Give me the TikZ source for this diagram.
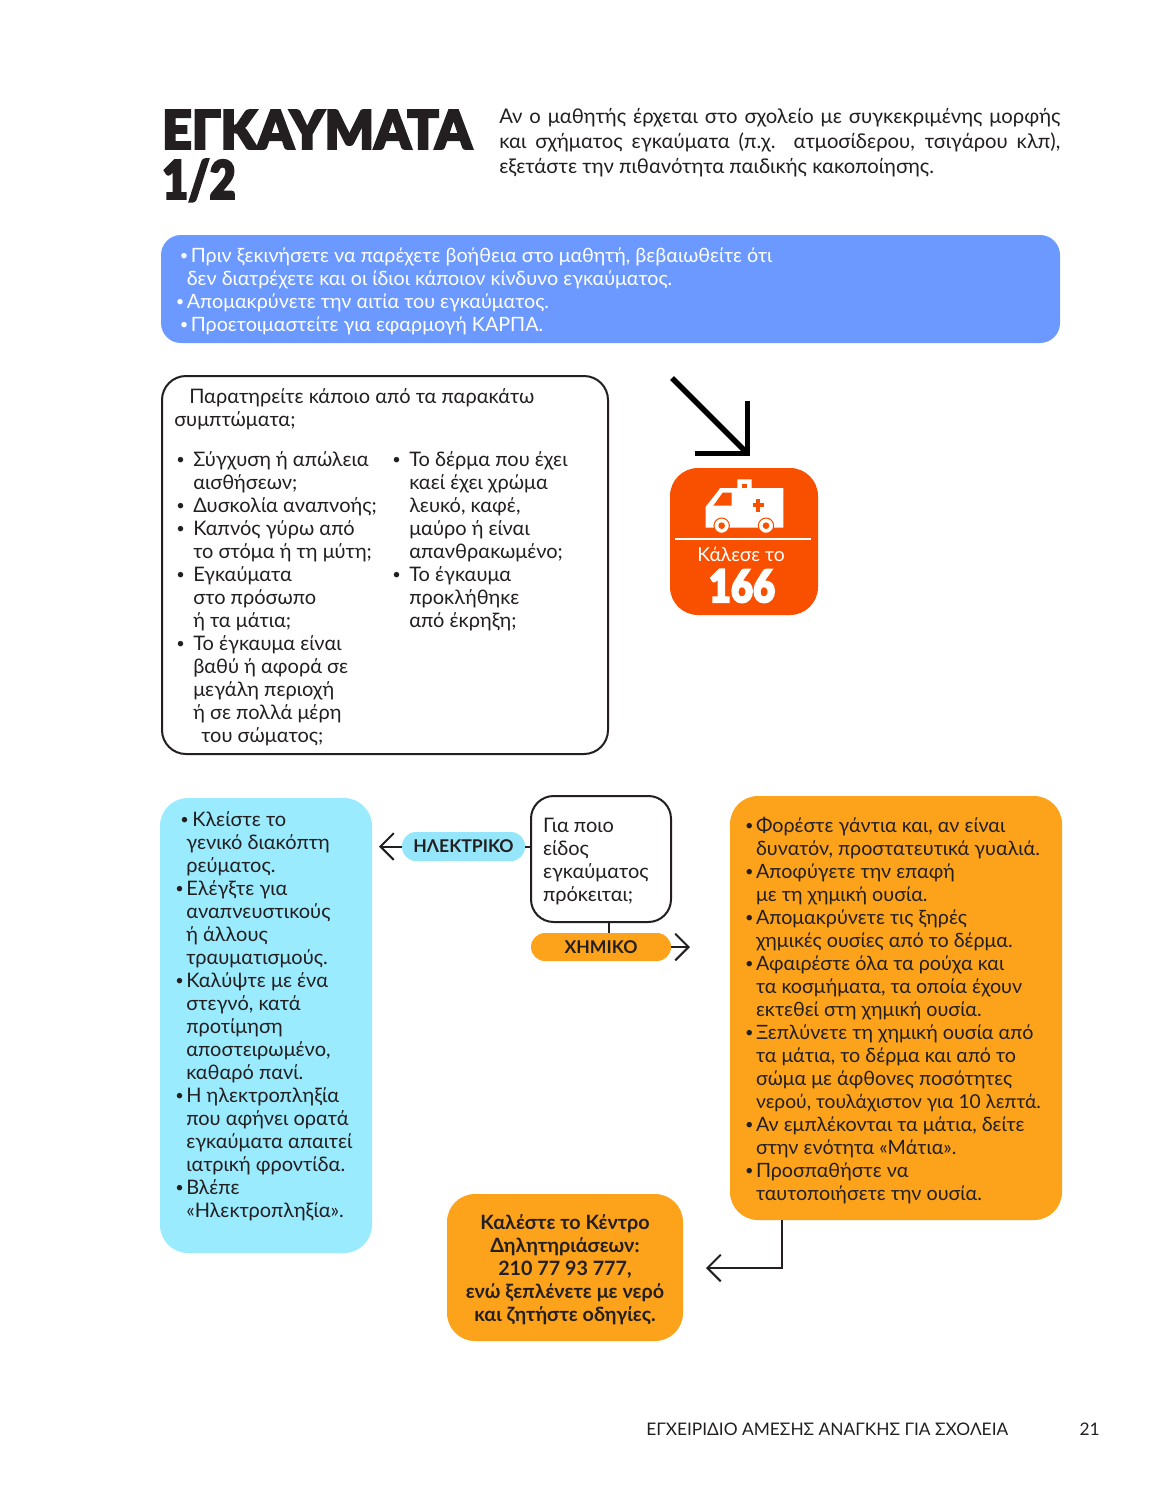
\documentclass[tikz,border=0pt]{standalone}
\usepackage{fontspec}
\setmainfont{Lato}
\newfontfamily\heavyf[FakeBold=3.5,FakeStretch=0.97]{Lato Black}
\newfontfamily\heavynum[FakeBold=3.5,FakeStretch=0.84]{Lato Black}
\usetikzlibrary{arrows.meta,calc}
\definecolor{ink}{HTML}{231F20}
\definecolor{blueb}{HTML}{6B99FF}
\definecolor{cyanb}{HTML}{9BEBFF}
\definecolor{pillc}{HTML}{95E6FB}
\definecolor{orab}{HTML}{FCA31B}
\definecolor{redb}{HTML}{F95000}
\newcommand\fsz[1]{\fontsize{#1}{17.25}\selectfont}
\newcommand\hs[1]{\hspace*{\dimexpr#1pt*3/4\relax}}
\newcommand\bu[1]{\makebox[\dimexpr#1pt*3/4\relax][l]{\raisebox{1pt}{\fontsize{11}{11}\selectfont •}}}
\newcommand\just[1]{\makebox[420.75pt][s]{\spaceskip=0pt\xspaceskip=0pt #1}}
\newcommand\topst[1]{\rule{0pt}{#1pt}}
\tikzset{
  x=0.75pt,y=-0.75pt,
  bodytext/.style={text=ink,font=\fsz{15},align=flush left,inner sep=0pt},
  filledbox/.style={rounded corners=#1,draw=none,inner sep=0pt},
  linebox/.style={rounded corners=#1,draw=ink,line width=1.5pt,inner sep=0pt,fill=white},
  pill/.style={rounded corners=10.5pt,inner sep=0pt,font=\fsz{13.2}\bfseries,text=ink},
  conn/.style={draw=ink,line width=1.5pt},
  barb/.style={conn,-{Straight Barb[length=10pt,width=20pt,line width=1.5pt]}},
}
\begin{document}
\begin{tikzpicture}
\useasboundingbox (0,0) rectangle (1165,1510);
\fill[white] (0,0) rectangle (1165,1510);
% title
\node[anchor=base west,inner sep=0pt,text=ink,font={\heavyf\fontsize{40}{40}\selectfont}] (title1) at (162,149) {ΕΓΚΑΥΜΑΤΑ};
\node[anchor=base west,inner sep=0pt,text=ink,font={\heavynum\fontsize{40}{40}\selectfont}] (title2) at (162,199) {1/2};
% intro
\node[bodytext,anchor=north west,font={\fontsize{15.2}{18.75}\selectfont},text width=421pt] (intro) at (499,108) {\just{Αν ο μαθητής έρχεται στο σχολείο με συγκεκριμένης μορφής}\\
\just{και σχήματος εγκαύματα (π.χ. ατμοσίδερου, τσιγάρου κλπ),}\\
εξετάστε την πιθανότητα παιδικής κακοποίησης.};
% blue banner
\node[filledbox=15pt,fill=blueb,minimum width=674.25pt,minimum height=81pt,text=white,font=\fsz{14.8},align=flush left,text width=652pt] (banner) at (610.5,289) {\topst{14}\hs{4}\bu{11}Πριν ξεκινήσετε να παρέχετε βοήθεια στο μαθητή, βεβαιωθείτε ότι\\
\hs{11}δεν διατρέχετε και οι ίδιοι κάποιον κίνδυνο εγκαύματος.\\
\bu{11}Απομακρύνετε την αιτία του εγκαύματος.\\
\hs{4}\bu{11}Προετοιμαστείτε για εφαρμογή ΚΑΡΠΑ.};
% symptoms
\node[linebox=18pt,minimum width=334.5pt,minimum height=283.5pt] (symptoms) at (385,565) {};
\node[bodytext,anchor=north west] (symhead) at (174,388) {\hs{15}Παρατηρείτε κάποιο από τα παρακάτω\\συμπτώματα;};
\node[bodytext,anchor=north west] (symleft) at (176,451) {\bu{17}Σύγχυση ή απώλεια\\
\hs{17}αισθήσεων;\\
\bu{17}Δυσκολία αναπνοής;\\
\bu{17}Καπνός γύρω από\\
\hs{17}το στόμα ή τη μύτη;\\
\bu{17}Εγκαύματα\\
\hs{17}στο πρόσωπο\\
\hs{17}ή τα μάτια;\\
\bu{17}Το έγκαυμα είναι\\
\hs{17}βαθύ ή αφορά σε\\
\hs{17}μεγάλη περιοχή\\
\hs{17}ή σε πολλά μέρη\\
\hs{25}του σώματος;};
\node[bodytext,anchor=north west] (symright) at (392,451) {\bu{17}Το δέρμα που έχει\\
\hs{17}καεί έχει χρώμα\\
\hs{17}λευκό, καφέ,\\
\hs{17}μαύρο ή είναι\\
\hs{17}απανθρακωμένο;\\
\bu{17}Το έγκαυμα\\
\hs{17}προκλήθηκε\\
\hs{17}από έκρηξη;};
% big arrow
\coordinate (bigstart) at (672,378);
\coordinate (bigend) at (750,456);
\draw[draw=black,line width=4pt,-{Straight Barb[length=28pt,width=56pt,line width=4pt]}] (bigstart) -- (bigend);
% 166
\node[filledbox=21pt,fill=redb,minimum width=111pt,minimum height=110.25pt] (call166) at (744,541.5) {};
\begin{scope}[shift={(650,360)},x=0.25pt,y=-0.25pt]
\fill[white] (167,503) -- (167,440) -- (205,392) -- (210,384) -- (262,384) -- (262,358) -- (305,358) -- (305,384) -- (400,384) -- (400,503) -- cycle;
\fill[redb] (190,437) -- (218,398) -- (245,398) -- (245,437) -- cycle;
\fill[redb] (277,372) rectangle (292,383);
\fill[redb] (319,418) rectangle (331,455);
\fill[redb] (308,430) rectangle (342,442);
\fill[white,draw=redb,line width=0.8pt] (215,497) circle[radius=23];
\fill[redb] (215,497) circle[radius=10];
\fill[white,draw=redb,line width=0.8pt] (348,497) circle[radius=23];
\fill[redb] (348,497) circle[radius=10];
\end{scope}
\coordinate (rulel) at (675,539);
\coordinate (ruler) at (811,539);
\draw[white,line width=1.5pt] (rulel) -- (ruler);
\node[inner sep=0pt,text=white,font=\fsz{14.5}] (callto) at (741,554) {Κάλεσε το};
\node[inner sep=0pt,text=white,font={\heavynum\fontsize{34}{34}\selectfont}] (num166) at (742,586) {166};
% cyan column
\node[filledbox=21pt,fill=cyanb,minimum width=159pt,minimum height=341.25pt] (cyanbox) at (266,1025.5) {};
\node[bodytext,anchor=north west] (cyantext) at (175,811) {\hs{5}\bu{12}Κλείστε το\\
\hs{11}γενικό διακόπτη\\
\hs{11}ρεύματος.\\
\bu{11}Ελέγξτε για\\
\hs{11}αναπνευστικούς\\
\hs{11}ή άλλους\\
\hs{11}τραυματισμούς.\\
\bu{11}Καλύψτε με ένα\\
\hs{11}στεγνό, κατά\\
\hs{11}προτίμηση\\
\hs{11}αποστειρωμένο,\\
\hs{11}καθαρό πανί.\\
\bu{11}Η ηλεκτροπληξία\\
\hs{11}που αφήνει ορατά\\
\hs{11}εγκαύματα απαιτεί\\
\hs{11}ιατρική φροντίδα.\\
\bu{11}Βλέπε\\
\hs{11}«Ηλεκτροπληξία».};
% question
\node[linebox=17pt,minimum width=105pt,minimum height=94.5pt,align=flush left,text=ink,font=\fsz{15},text width=87pt] (question) at (601,859) {\topst{15}Για ποιο\\είδος\\εγκαύματος\\πρόκειται;};
\node[pill,fill=pillc,minimum width=92.25pt,minimum height=21.75pt] (electric) at (463.5,846.5) {ΗΛΕΚΤΡΙΚΟ};
\node[pill,fill=orab,minimum width=105pt,minimum height=21pt] (chem) at (601,947) {ΧΗΜΙΚΟ};
\coordinate (elecarrow) at (379,846.5);
\coordinate (chemarrow) at (690,947);
\draw[conn] (electric.east) -- (electric.east -| question.west);
\draw[barb] (electric.west) -- (elecarrow);
\draw[conn] (question.south -| 609,0) -- (chem.north -| 609,0);
\draw[barb] (chem.east) -- (chemarrow);
% orange column
\node[filledbox=21pt,fill=orab,minimum width=249pt,minimum height=318pt,align=flush left,text=ink,font=\fsz{14.8},text width=226.5pt] (orange) at (896,1008) {\topst{15}\bu{11}Φορέστε γάντια και, αν είναι\\
\hs{11}δυνατόν, προστατευτικά γυαλιά.\\
\bu{11}Αποφύγετε την επαφή\\
\hs{11}με τη χημική ουσία.\\
\bu{11}Απομακρύνετε τις ξηρές\\
\hs{11}χημικές ουσίες από το δέρμα.\\
\bu{11}Αφαιρέστε όλα τα ρούχα και\\
\hs{11}τα κοσμήματα, τα οποία έχουν\\
\hs{11}εκτεθεί στη χημική ουσία.\\
\bu{11}Ξεπλύνετε τη χημική ουσία από\\
\hs{11}τα μάτια, το δέρμα και από το\\
\hs{11}σώμα με άφθονες ποσότητες\\
\hs{11}{\fsz{14.4}νερού, τουλάχιστον για 10 λεπτά.}\\
\bu{11}Αν εμπλέκονται τα μάτια, δείτε\\
\hs{11}στην ενότητα «Μάτια».\\
\bu{11}Προσπαθήστε να\\
\hs{11}ταυτοποιήσετε την ουσία.};
% poison centre
\node[filledbox=21pt,fill=orab,minimum width=177pt,minimum height=110.25pt,align=flush center,text=ink,font=\fsz{14.8}\bfseries] (poison) at (565,1267.5) {\topst{14.5}Καλέστε το Κέντρο\\Δηλητηριάσεων:\\210 77 93 777,\\ενώ ξεπλένετε με νερό\\και ζητήστε οδηγίες.};
\coordinate (elbow) at (782,1268);
\coordinate (poisonarrow) at (706,1268);
\draw[barb] (orange.south -| elbow) -- (elbow) -- (poisonarrow);
% footer
\node[anchor=base west,inner sep=0pt,text=ink,font=\fsz{13}] (footer) at (646,1435) {ΕΓΧΕΙΡΙΔΙΟ ΑΜΕΣΗΣ ΑΝΑΓΚΗΣ ΓΙΑ ΣΧΟΛΕΙΑ};
\node[anchor=base east,inner sep=0pt,text=ink,font=\fsz{13}] (pageno) at (1100,1435) {21};
\end{tikzpicture}
\end{document}
